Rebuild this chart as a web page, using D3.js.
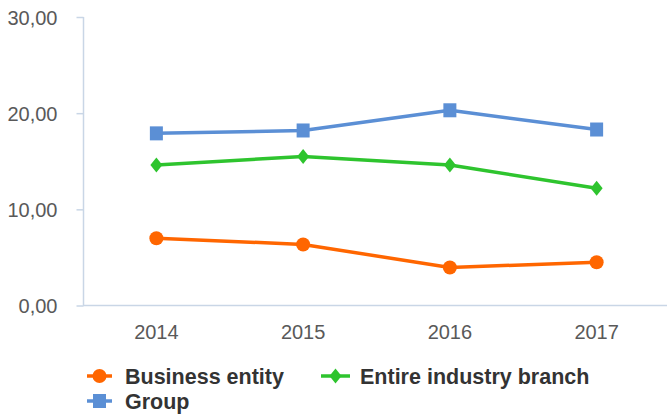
<!DOCTYPE html>
<html>
<head>
<meta charset="utf-8">
<script src="https://cdn.jsdelivr.net/npm/d3@7"></script>
<style>
  html, body { margin: 0; padding: 0; background: #ffffff; }
  svg { display: block; }
  text { font-family: "Liberation Sans", Arial, sans-serif; }
</style>
</head>
<body>
<svg id="chart" width="667" height="417"></svg>
<script>
// Years on the category axis
const years = ["2014", "2015", "2016", "2017"];

// Series values per year
const businessEntity = [7.0, 6.35, 3.95, 4.5];
const industryBranch = [14.6, 15.5, 14.6, 12.2];
const group = [17.9, 18.2, 20.3, 18.3];

// Value axis ticks
const yTicks = [0, 10, 20, 30];

const series = [
  { name: "Business entity", values: businessEntity, color: "#FF6600", marker: "circle" },
  { name: "Entire industry branch", values: industryBranch, color: "#2EC42E", marker: "diamond" },
  { name: "Group", values: group, color: "#5B8FD5", marker: "square" }
];

const svg = d3.select("#chart");
const axisColor = "#C9D6E6";
const tickTextColor = "#595959";

const x = d3.scaleBand().domain(years).range([83, 670]).padding(0);
const y = d3.scaleLinear().domain([0, 30]).range([305.5, 17]);

const locale = d3.formatLocale({ decimal: ",", thousands: ".", grouping: [3], currency: ["", " €"] });
const fmt = locale.format(".2f");

// Value axis
const yAxis = d3.axisLeft(y).tickValues(yTicks).tickFormat(fmt).tickSize(7).tickPadding(19);
const gy = svg.append("g").attr("transform", "translate(83.5,0)").call(yAxis);
gy.select(".domain").attr("stroke", axisColor).attr("stroke-width", 1.5).attr("d", `M-0,${y(30)}V${y(0)}`);
gy.selectAll(".tick line").attr("stroke", axisColor).attr("stroke-width", 1.5);
gy.selectAll(".tick text")
  .attr("fill", tickTextColor)
  .style("font-size", "20px")
  .attr("dy", "0.36em");

// Category axis
const xAxis = d3.axisBottom(x).tickSize(0).tickPadding(19);
const gx = svg.append("g").attr("transform", `translate(0,${y(0)})`).call(xAxis);
gx.select(".domain").attr("stroke", axisColor).attr("stroke-width", 1.5).attr("d", `M83,0H667`);
gx.selectAll(".tick text")
  .attr("fill", tickTextColor)
  .style("font-size", "20px")
  .attr("dy", "0.71em");

const cx = d => x(d) + x.bandwidth() / 2;

function drawMarker(g, type, color) {
  if (type === "circle") {
    g.append("circle").attr("r", 7).attr("fill", color);
  } else if (type === "diamond") {
    g.append("path").attr("d", "M0,-7.5L6,0L0,7.5L-6,0Z").attr("fill", color);
  } else {
    g.append("rect").attr("x", -6.5).attr("y", -7).attr("width", 13).attr("height", 14).attr("fill", color);
  }
}

// Lines and markers
const line = d3.line().x((d, i) => cx(years[i])).y(d => y(d));
series.forEach(s => {
  svg.append("path")
    .datum(s.values)
    .attr("fill", "none")
    .attr("stroke", s.color)
    .attr("stroke-width", 3.5)
    .attr("stroke-linejoin", "round")
    .attr("d", line);
  s.values.forEach((v, i) => {
    const g = svg.append("g").attr("transform", `translate(${cx(years[i])},${y(v)})`);
    drawMarker(g, s.marker, s.color);
  });
});

// Legend
const legendItems = [
  { s: series[0], x0: 87, x1: 112, tx: 125, y: 376 },
  { s: series[1], x0: 321, x1: 350, tx: 360, y: 376 },
  { s: series[2], x0: 87, x1: 112, tx: 125, y: 401 }
];
legendItems.forEach(item => {
  const g = svg.append("g");
  g.append("line")
    .attr("x1", item.x0).attr("x2", item.x1)
    .attr("y1", item.y).attr("y2", item.y)
    .attr("stroke", item.s.color).attr("stroke-width", 3.5);
  const m = g.append("g").attr("transform", `translate(${(item.x0 + item.x1) / 2},${item.y})`);
  drawMarker(m, item.s.marker, item.s.color);
  g.append("text")
    .attr("x", item.tx).attr("y", item.y)
    .attr("dy", "0.36em")
    .attr("fill", "#333333")
    .style("font-size", "21.5px")
    .style("font-weight", "bold")
    .text(item.s.name);
});
</script>
</body>
</html>
